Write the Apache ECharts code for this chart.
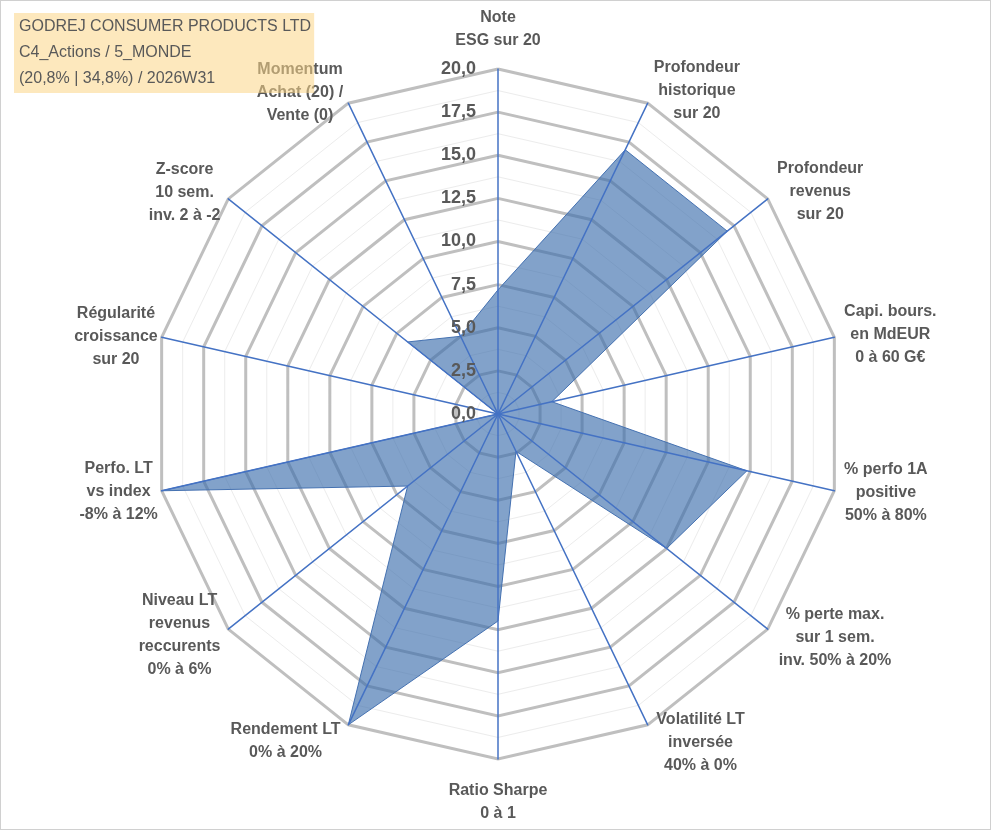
<!DOCTYPE html>
<html><head><meta charset="utf-8">
<script src="https://cdn.jsdelivr.net/npm/echarts@6/dist/echarts.min.js"></script>
<style>html,body{margin:0;padding:0;background:#fff}
#c{width:989px;height:828px;border:1px solid #D0D0D0;}</style>
</head><body><div id="c"></div>
<script>
const titleLines = ['GODREJ CONSUMER PRODUCTS LTD', 'C4_Actions / 5_MONDE', '(20,8% | 34,8%) / 2026W31'];
// clockwise from the top
const axisNames = [
  'Note\nESG sur 20',
  'Profondeur\nhistorique\nsur 20',
  'Profondeur\nrevenus\nsur 20',
  'Capi. bours.\nen MdEUR\n0 à 60 G€',
  '% perfo 1A\npositive\n50% à 80%',
  '% perte max.\nsur 1 sem.\ninv. 50% à 20%',
  'Volatilité LT\ninversée\n40% à 0%',
  'Ratio Sharpe\n0 à 1',
  'Rendement LT\n0% à 20%',
  'Niveau LT\nrevenus\nreccurents\n0% à 6%',
  'Perfo. LT\nvs index\n-8% à 12%',
  'Régularité\ncroissance\nsur 20',
  'Z-score\n10 sem.\ninv. 2 à -2',
  'Momentum\nAchat (20) /\nVente (0)'
];
const scores = [7.2, 17.0, 17.0, 3.2, 14.8, 12.5, 2.4, 12.0, 20.0, 6.7, 20.0, 0, 6.7, 5.0];
const scaleMin = 0;
const scaleMax = 20;
const majorSplits = 8;   // ticks every 2,5
const minorSplits = 16;  // light rings every 1,25

// label gaps (layout only), clockwise from the top
const nameGaps = [17, 14, 12, 10, 10, 14, 20, 20, 18, 10, 4, 4, 10, 12];

// ECharts lays indicators counter-clockwise: keep first, reverse the rest
const order = [0].concat(axisNames.map((_, i) => i).slice(1).reverse());
const names = order.map(i => axisNames[i]);
const vals = order.map(i => scores[i]);
const gaps = order.map(i => nameGaps[i]);

const CENTER = [497, 413];
const RADIUS = 345;
const FONT = 'Liberation Sans, Arial, sans-serif';

function indicators(withLabel) {
  return names.map((n, k) => {
    const o = { name: n, min: scaleMin, max: scaleMax, nameGap: gaps[k] };
    if (withLabel && k === 0) {
      o.axisLabel = {
        show: true, margin: 22, showMinLabel: true, showMaxLabel: true,
        fontSize: 18, fontWeight: 'bold', color: '#595959', fontFamily: FONT,
        formatter: v => Number(v).toFixed(1).replace('.', ',')
      };
    }
    return o;
  });
}

const chart = echarts.init(document.getElementById('c'), null, { renderer: 'canvas' });
chart.setOption({
  animation: false,
  backgroundColor: '#fff',
  title: {
    text: titleLines.join('\n'),
    left: 13, top: 12, z: 20,
    backgroundColor: 'rgba(251,214,134,0.55)',
    padding: [1, 3, 1, 5],
    textStyle: { fontSize: 16, fontWeight: 'normal', color: '#595959', lineHeight: 26, fontFamily: FONT }
  },
  radar: [
    {
      center: CENTER, radius: RADIUS, shape: 'polygon', splitNumber: minorSplits,
      indicator: indicators(false), z: 1,
      axisName: { show: false },
      axisLine: { show: false }, axisTick: { show: false }, axisLabel: { show: false },
      splitArea: { show: false },
      splitLine: { lineStyle: { color: '#ECECEC', width: 1 } }
    },
    {
      center: CENTER, radius: RADIUS, shape: 'polygon', splitNumber: majorSplits,
      indicator: indicators(false), z: 1, nameGap: 12,
      axisName: {
        show: true, color: '#595959', fontSize: 16, fontWeight: 'bold', fontFamily: FONT, lineHeight: 23,
        formatter: v => v.split('\n').map(l => '{c|' + l + '}').join('\n'),
        rich: { c: { align: 'center', color: '#595959', fontSize: 16, fontWeight: 'bold', fontFamily: FONT, lineHeight: 23 } }
      },
      axisLine: { show: false }, axisTick: { show: false }, axisLabel: { show: false },
      splitArea: { show: false },
      splitLine: { lineStyle: { color: '#BFBFBF', width: 3 } }
    },
    {
      center: CENTER, radius: RADIUS, shape: 'polygon', splitNumber: majorSplits,
      indicator: indicators(true), z: 5,
      axisName: { show: false },
      axisLine: { show: true, lineStyle: { color: '#4472C4', width: 1.5 } },
      axisTick: { show: false }, axisLabel: { show: false },
      splitArea: { show: false }, splitLine: { show: false }
    }
  ],
  series: [{
    type: 'radar', radarIndex: 1, z: 3,
    symbol: 'none',
    lineStyle: { color: '#4A74B4', width: 1 },
    areaStyle: { color: 'rgba(60,110,172,0.64)', opacity: 1 },
    data: [{ value: vals, name: 'Score' }]
  }]
});
</script></body></html>
